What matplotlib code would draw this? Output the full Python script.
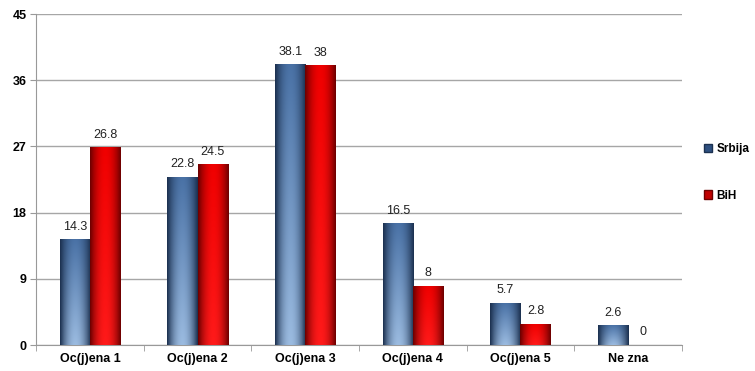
import numpy as np
import matplotlib
matplotlib.use("Agg")
import matplotlib.pyplot as plt
from matplotlib.patches import Patch

categories = ["Oc(j)ena 1", "Oc(j)ena 2", "Oc(j)ena 3", "Oc(j)ena 4", "Oc(j)ena 5", "Ne zna"]
srbija = [14.3, 22.8, 38.1, 16.5, 5.7, 2.6]
bih = [26.8, 24.5, 38, 8, 2.8, 0]
yticks = [0, 9, 18, 27, 36, 45]
series_names = ["Srbija", "BiH"]

plt.rcParams['font.family'] = ['Liberation Sans', 'DejaVu Sans']

fig = plt.figure(figsize=(7.55, 3.71), dpi=100)
ax = fig.add_axes([0.048, 0.07, 0.855, 0.892])

x = np.arange(len(categories))
w = 0.28
blue_base = "#3b5f8e"
red_base = "#d40000"

b1 = ax.bar(x - w/2, srbija, w, color=blue_base, zorder=3)
b2 = ax.bar(x + w/2, bih, w, color=red_base, zorder=3)

def shade(bars, edge, mid, bottom_light):
    nx, ny = 40, 60
    t = np.linspace(-1, 1, nx)
    prof = 1 - np.abs(t) ** 2
    e = np.array(matplotlib.colors.to_rgb(edge))
    m = np.array(matplotlib.colors.to_rgb(mid))
    bl = np.array(matplotlib.colors.to_rgb(bottom_light))
    for bar in bars:
        h = bar.get_height()
        if h <= 0:
            continue
        xs, bw = bar.get_x(), bar.get_width()
        vy = np.linspace(0, 1, ny)[:, None]
        col_mid = m[None, :] * vy + bl[None, :] * (1 - vy)
        pm = prof[None, :, None]
        img = pm * col_mid[:, None, :] + (1 - pm) * e[None, None, :]
        ax.imshow(img, extent=[xs, xs + bw, 0, h], origin="lower",
                  aspect="auto", zorder=4, interpolation="bilinear")

shade(b1, "#1c3150", "#4a72a6", "#9bbbe0")
shade(b2, "#6e0000", "#f00000", "#ff1a1a")

for bars, vals in ((b1, srbija), (b2, bih)):
    for bar, v in zip(bars, vals):
        ax.annotate(f"{v:g}", (bar.get_x() + bar.get_width()/2, bar.get_height()),
                    xytext=(0, 5), textcoords="offset points", ha="center", va="bottom",
                    fontsize=9, color="#222222", zorder=6)

ax.set_xlim(-0.5, len(categories) - 0.5)
ax.set_ylim(0, 45)
ax.set_yticks(yticks)
ax.set_yticklabels([str(t) for t in yticks], fontsize=9, fontweight="bold")
ax.set_xticks(x)
ax.set_xticklabels(categories, fontsize=9, fontweight="bold")
ax.set_xticks(np.arange(-0.5, len(categories)), minor=True)
ax.tick_params(axis="x", which="major", length=0, pad=6)
ax.tick_params(axis="x", which="minor", length=4, color="#999999")
ax.tick_params(axis="y", length=4, color="#999999", pad=3)
ax.grid(axis="y", color="#a6a6a6", linewidth=1, zorder=0)
for s in ("top", "right"):
    ax.spines[s].set_visible(False)
for s in ("left", "bottom"):
    ax.spines[s].set_color("#999999")

handles = [Patch(facecolor="#2e5080", edgecolor="#1c3150"), Patch(facecolor="#c00000", edgecolor="#6e0000")]
fig.legend(handles, series_names, loc="center left", bbox_to_anchor=(0.932, 0.535),
           frameon=False, prop={"weight": "bold", "size": 8.5},
           handlelength=0.7, handleheight=0.7, labelspacing=2.9, handletextpad=0.4,
           borderpad=0, borderaxespad=0)

fig.savefig("out.png", dpi=100)
